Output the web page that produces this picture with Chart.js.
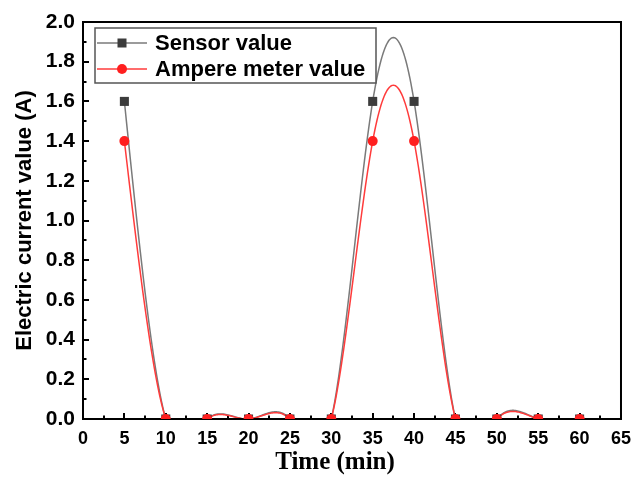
<!DOCTYPE html>
<html>
<head>
<meta charset="utf-8">
<script src="https://cdn.jsdelivr.net/npm/chart.js@4.4.1/dist/chart.umd.min.js"></script>
<style>
  html, body { margin: 0; padding: 0; background: #fff; }
  #wrap { width: 640px; height: 477px; }
</style>
</head>
<body>
<div id="wrap"><canvas id="c" width="640" height="477"></canvas></div>
<script>
// ---- data ----
const timeMin = [5, 10, 15, 20, 25, 30, 35, 40, 45, 50, 55, 60];
const sensorValue = [1.6, 0, 0, 0, 0, 0, 1.6, 1.6, 0, 0, 0, 0];
const ampereValue = [1.4, 0, 0, 0, 0, 0, 1.4, 1.4, 0, 0, 0, 0];
const xTickValues = [0, 5, 10, 15, 20, 25, 30, 35, 40, 45, 50, 55, 60, 65];
const yTickValues = [0, 0.2, 0.4, 0.6, 0.8, 1.0, 1.2, 1.4, 1.6, 1.8, 2.0];
const seriesLabels = ['Sensor value', 'Ampere meter value'];
const xTitle = 'Time (min)';
const yTitle = 'Electric current value (A)';

const SANS = '"Liberation Sans", Arial, sans-serif';
const SERIF = '"Liberation Serif", "Times New Roman", serif';
const GRAY_LINE = '#7a7a7a';
const GRAY_MARK = '#3c3c3c';
const RED_LINE = '#ff3b3b';
const RED_MARK = '#ff1f1f';

function toPoints(xs, ys) { return xs.map((x, i) => ({ x: x, y: ys[i] })); }

// natural cubic spline (Origin-style "spline" connection)
function naturalSpline(xs, ys) {
  const n = xs.length;
  const h = [];
  for (let i = 0; i < n - 1; i++) h.push(xs[i + 1] - xs[i]);
  const a = new Array(n).fill(0), b = new Array(n).fill(1), c = new Array(n).fill(0), d = new Array(n).fill(0);
  for (let i = 1; i < n - 1; i++) {
    a[i] = h[i - 1];
    b[i] = 2 * (h[i - 1] + h[i]);
    c[i] = h[i];
    d[i] = 6 * ((ys[i + 1] - ys[i]) / h[i] - (ys[i] - ys[i - 1]) / h[i - 1]);
  }
  const cp = new Array(n).fill(0), dp = new Array(n).fill(0);
  cp[0] = c[0] / b[0]; dp[0] = d[0] / b[0];
  for (let i = 1; i < n; i++) {
    const m = b[i] - a[i] * cp[i - 1];
    cp[i] = c[i] / m;
    dp[i] = (d[i] - a[i] * dp[i - 1]) / m;
  }
  const M = new Array(n).fill(0);
  M[n - 1] = dp[n - 1];
  for (let i = n - 2; i >= 0; i--) M[i] = dp[i] - cp[i] * M[i + 1];
  return function (i, t) {
    const hi = h[i];
    const x = xs[i] + t * hi;
    const A = 1 - t, B = t;
    const y = A * ys[i] + B * ys[i + 1] + ((A * A * A - A) * M[i] + (B * B * B - B) * M[i + 1]) * hi * hi / 6;
    return { x: x, y: y };
  };
}

const framePlugin = {
  id: 'frameAndCurves',
  beforeDatasetsDraw(chart) {
    const ctx = chart.ctx;
    const area = chart.chartArea;
    const xs = chart.scales.x, ys = chart.scales.y;
    ctx.save();
    ctx.strokeStyle = '#000';
    ctx.lineWidth = 2;
    ctx.beginPath();
    xTickValues.forEach((v, i) => {
      const px = Math.round(xs.getPixelForValue(v));
      ctx.moveTo(px, area.bottom); ctx.lineTo(px, area.bottom - 6);
      if (i < xTickValues.length - 1) {
        const mx = Math.round(xs.getPixelForValue((v + xTickValues[i + 1]) / 2));
        ctx.moveTo(mx, area.bottom); ctx.lineTo(mx, area.bottom - 3.5);
      }
    });
    yTickValues.forEach((v, i) => {
      const py = Math.round(ys.getPixelForValue(v));
      ctx.moveTo(area.left, py); ctx.lineTo(area.left + 6, py);
      if (i < yTickValues.length - 1) {
        const my = Math.round(ys.getPixelForValue((v + yTickValues[i + 1]) / 2));
        ctx.moveTo(area.left, my); ctx.lineTo(area.left + 3.5, my);
      }
    });
    ctx.stroke();
    ctx.beginPath();
    ctx.rect(area.left, area.top, area.right - area.left, area.bottom - area.top);
    ctx.clip();
    const series = [
      { ys: sensorValue, color: GRAY_LINE },
      { ys: ampereValue, color: RED_LINE }
    ];
    series.forEach(s => {
      const f = naturalSpline(timeMin, s.ys);
      ctx.beginPath();
      ctx.strokeStyle = s.color;
      ctx.lineWidth = 1.5;
      for (let i = 0; i < timeMin.length - 1; i++) {
        for (let k = 0; k <= 40; k++) {
          const p = f(i, k / 40);
          const px = xs.getPixelForValue(p.x), py = ys.getPixelForValue(p.y);
          if (i === 0 && k === 0) ctx.moveTo(px, py); else ctx.lineTo(px, py);
        }
      }
      ctx.stroke();
    });
    ctx.restore();
    ctx.save();
    ctx.strokeStyle = '#000';
    ctx.lineWidth = 2;
    ctx.strokeRect(area.left, area.top, area.right - area.left, area.bottom - area.top);
    ctx.restore();
  },
  afterDatasetsDraw(chart) {
    const ctx = chart.ctx;
    ctx.save();
    const bx = 95, by = 28, bw = 281, bh = 55;
    ctx.fillStyle = '#fff';
    ctx.fillRect(bx, by, bw, bh);
    ctx.strokeStyle = '#555';
    ctx.lineWidth = 1.5;
    ctx.strokeRect(bx, by, bw, bh);
    const rows = [
      { y: 43, line: GRAY_LINE, mark: GRAY_MARK, style: 'rect', label: seriesLabels[0] },
      { y: 69, line: RED_LINE, mark: RED_MARK, style: 'circle', label: seriesLabels[1] }
    ];
    rows.forEach(r => {
      ctx.beginPath();
      ctx.strokeStyle = r.line;
      ctx.lineWidth = 1.5;
      ctx.moveTo(97, r.y); ctx.lineTo(147, r.y);
      ctx.stroke();
      ctx.fillStyle = r.mark;
      if (r.style === 'rect') {
        ctx.fillRect(122 - 4.5, r.y - 4.5, 9, 9);
      } else {
        ctx.beginPath(); ctx.arc(122, r.y, 5, 0, Math.PI * 2); ctx.fill();
      }
      ctx.fillStyle = '#000';
      ctx.font = 'bold 22px ' + SANS;
      ctx.textBaseline = 'middle';
      ctx.textAlign = 'left';
      ctx.fillText(r.label, 155, r.y + 1);
    });
    // x axis title (offset left of plot centre as in the reference)
    ctx.fillStyle = '#000';
    ctx.font = 'bold 25px ' + SERIF;
    ctx.textAlign = 'center';
    ctx.textBaseline = 'middle';
    ctx.fillText(xTitle, 335, 463);
    ctx.restore();
  }
};

new Chart(document.getElementById('c'), {
  type: 'scatter',
  data: {
    datasets: [
      {
        label: seriesLabels[0],
        data: toPoints(timeMin, sensorValue),
        showLine: false,
        pointStyle: 'rect',
        pointRadius: 6.4,
        backgroundColor: GRAY_MARK,
        borderColor: GRAY_MARK,
        borderWidth: 0,
        order: 1
      },
      {
        label: seriesLabels[1],
        data: toPoints(timeMin, ampereValue),
        showLine: false,
        pointStyle: 'circle',
        pointRadius: 5,
        backgroundColor: RED_MARK,
        borderColor: RED_MARK,
        borderWidth: 0,
        order: 0
      }
    ]
  },
  options: {
    responsive: false,
    animation: false,
    events: [],
    layout: { padding: { left: 0, right: 14, top: 22, bottom: 0 } },
    plugins: { legend: { display: false }, tooltip: { enabled: false } },
    scales: {
      x: {
        type: 'linear',
        min: 0, max: 65,
        afterBuildTicks(s) { s.ticks = xTickValues.map(v => ({ value: v })); },
        afterFit(s) { s.height = 58; },
        grid: { display: false, drawTicks: false },
        border: { display: false },
        ticks: {
          padding: 9,
          color: '#000',
          font: { family: SANS, size: 18, weight: 'bold' },
          maxRotation: 0,
          autoSkip: false,
          callback: v => String(v)
        },
        title: { display: false }
      },
      y: {
        type: 'linear',
        min: 0, max: 2.0,
        afterBuildTicks(s) { s.ticks = yTickValues.map(v => ({ value: v })); },
        afterFit(s) { s.width = 83; },
        grid: { display: false, drawTicks: false },
        border: { display: false },
        ticks: {
          padding: 8,
          color: '#000',
          font: { family: SANS, size: 21, weight: 'bold' },
          autoSkip: false,
          callback: v => Number(v).toFixed(1)
        },
        title: {
          display: true,
          text: yTitle,
          color: '#000',
          font: { family: SANS, size: 22, weight: 'bold' },
          padding: { top: 12, bottom: 0 }
        }
      }
    }
  },
  plugins: [framePlugin]
});
</script>
</body>
</html>
